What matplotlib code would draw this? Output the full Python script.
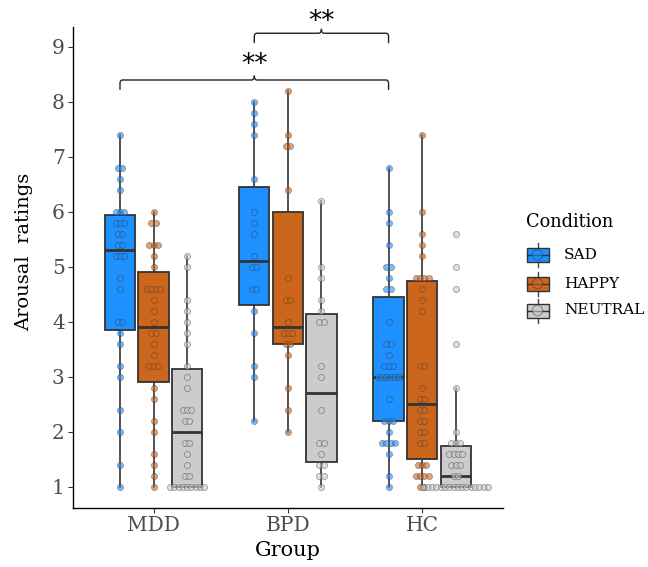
import numpy as np
import matplotlib
matplotlib.use("Agg")
import matplotlib.pyplot as plt
from matplotlib.path import Path
from matplotlib.patches import PathPatch, Rectangle, Circle
from collections import Counter

plt.rcParams['font.family'] = ['DejaVu Serif']

groups = ["MDD", "BPD", "HC"]
conditions = ["SAD", "HAPPY", "NEUTRAL"]
cond_colors = ["#1E90FF", "#CD661D", "#CCCCCC"]

mdd_sad = [1.0, 1.4, 2.0, 2.4, 3.0, 3.2, 3.6, 3.8, 4.0, 4.0, 4.6, 4.8, 5.2, 5.2, 5.2,
           5.4, 5.4, 5.6, 5.6, 5.8, 5.8, 5.8, 6.0, 6.0, 6.0, 6.4, 6.6, 6.8, 6.8, 7.4]
mdd_happy = [1.0, 1.2, 1.4, 1.6, 2.0, 2.2, 2.6, 2.8, 3.2, 3.2, 3.2, 3.4, 3.6, 3.8, 3.8,
             4.0, 4.2, 4.4, 4.6, 4.6, 4.6, 4.6, 5.0, 5.2, 5.4, 5.4, 5.4, 5.8, 5.8, 6.0]
mdd_neutral = [1.0] * 9 + [1.2, 1.2, 1.4, 1.6, 1.8, 1.8, 2.2, 2.2, 2.4, 2.4, 2.4, 2.8,
                           3.0, 3.2, 3.6, 3.8, 4.0, 4.2, 4.4, 5.0, 5.2]
bpd_sad = [2.2, 3.0, 3.2, 3.8, 4.2, 4.6, 4.6, 5.0, 5.0, 5.2, 5.6, 5.8, 6.0, 6.6, 7.4,
           7.6, 7.8, 8.0]
bpd_happy = [2.0, 2.4, 2.8, 3.4, 3.6, 3.6, 3.8, 3.8, 3.8, 4.0, 4.4, 4.4, 4.8, 6.4, 7.2,
             7.2, 7.4, 8.2]
bpd_neutral = [1.0, 1.2, 1.2, 1.4, 1.4, 1.6, 1.8, 1.8, 2.4, 3.0, 3.2, 4.0, 4.0, 4.2,
               4.4, 4.8, 5.0, 6.2]
hc_sad = [1.0, 1.2, 1.6, 1.8, 1.8, 1.8, 1.8, 2.0, 2.2, 2.2, 2.2, 2.6] + [3.0] * 6 + \
         [3.2, 3.2, 3.2, 3.4, 3.6, 3.6, 4.0, 4.6, 4.6, 4.8, 5.0, 5.0, 5.4, 5.8, 6.0, 6.8]
hc_happy = [1.0, 1.0, 1.2, 1.2, 1.2, 1.2, 1.4, 1.4, 1.4, 1.8, 1.8, 2.0, 2.0, 2.2, 2.2,
            2.4, 2.4, 2.6, 2.6, 2.8, 3.2, 3.2, 4.2, 4.4, 4.6, 4.8, 4.8, 4.8, 4.8, 5.2,
            5.4, 5.6, 6.0, 7.4]
hc_neutral = [1.0] * 16 + [1.2, 1.2, 1.4, 1.4, 1.4, 1.6, 1.6, 1.6, 1.6, 1.8, 1.8, 1.8,
                           2.0, 2.8, 3.6, 4.6, 5.0, 5.6]

data = {
    ("MDD", "SAD"): mdd_sad, ("MDD", "HAPPY"): mdd_happy, ("MDD", "NEUTRAL"): mdd_neutral,
    ("BPD", "SAD"): bpd_sad, ("BPD", "HAPPY"): bpd_happy, ("BPD", "NEUTRAL"): bpd_neutral,
    ("HC", "SAD"): hc_sad, ("HC", "HAPPY"): hc_happy, ("HC", "NEUTRAL"): hc_neutral,
}

W, H = 648, 567
fig = plt.figure(figsize=(W / 100, H / 100), dpi=100)
ax = fig.add_axes([73 / W, (H - 508) / H, 429.7 / W, 481.3 / H])

dodge = 0.25
box_w = 0.225
dot_step = 0.032
edge_dark = "#333333"

for gi, g in enumerate(groups):
    for ci, c in enumerate(conditions):
        vals = np.array(data[(g, c)])
        pos = gi + 1 + (ci - 1) * dodge
        bp = ax.boxplot([vals], positions=[pos], widths=box_w, patch_artist=True,
                        showfliers=False, showcaps=False, whis=1.5, manage_ticks=False,
                        boxprops=dict(facecolor=cond_colors[ci], edgecolor=edge_dark, linewidth=1.3),
                        whiskerprops=dict(color="#444444", linewidth=1.3),
                        medianprops=dict(color=edge_dark, linewidth=2.0))
        for w in bp['whiskers']:
            w.set_zorder(1)
        for b in bp['boxes']:
            b.set_zorder(2)
        for m in bp['medians']:
            m.set_zorder(2.5)
        cnt = Counter(np.round(vals, 2))
        xs, ys = [], []
        for v, n in sorted(cnt.items()):
            for i in range(n):
                xs.append(pos + (i - (n - 1) / 2) * dot_step)
                ys.append(v)
        rgb = matplotlib.colors.to_rgb(cond_colors[ci])
        ax.scatter(xs, ys, s=19, facecolor=(*rgb, 0.6), edgecolor=(0.2, 0.2, 0.2, 0.45),
                   linewidth=0.6, zorder=3)

ax.set_xlim(0.4, 3.6)
ax.set_ylim(0.618, 9.369)
ax.set_xticks([1, 2, 3])
ax.set_xticklabels(groups)
ax.set_yticks(range(1, 10))
for s in ["top", "right"]:
    ax.spines[s].set_visible(False)
for s in ["left", "bottom"]:
    ax.spines[s].set_linewidth(1.0)
    ax.spines[s].set_color("black")
ax.tick_params(axis="both", length=3.5, width=0.8, color="#333333", labelcolor="#4D4D4D",
               labelsize=14.5, pad=2.5)

ax.set_ylabel("Arousal  ratings", fontsize=14, color="black")
ax.set_xlabel("Group", fontsize=15, color="black")
ax.yaxis.set_label_coords(-0.093, 0.532)
ax.xaxis.set_label_coords(0.5, -0.0686)


def brace(x0, x1, xc, ylow, yh, tip, text, ytext):
    p1 = Path([(x0, ylow), (x0, yh - 0.06), (x0, yh), (x0 + 0.02, yh), (xc - 0.02, yh),
               (xc, yh), (xc, yh + tip)],
              [Path.MOVETO, Path.LINETO, Path.CURVE3, Path.CURVE3, Path.LINETO,
               Path.CURVE3, Path.CURVE3])
    p2 = Path([(xc, yh + tip), (xc, yh), (xc + 0.02, yh), (x1 - 0.02, yh), (x1, yh),
               (x1, yh - 0.06), (x1, ylow)],
              [Path.MOVETO, Path.CURVE3, Path.CURVE3, Path.LINETO, Path.CURVE3,
               Path.CURVE3, Path.LINETO])
    for p in (p1, p2):
        ax.add_patch(PathPatch(p, facecolor="none", edgecolor="#222222", linewidth=1.0,
                               clip_on=False))
    ax.text(xc, ytext, text, ha="center", va="baseline", fontsize=19, color="black",
            family="DejaVu Sans", clip_on=False)


brace(0.75, 2.75, 1.75, 8.22, 8.40, 0.08, "**", 8.55)
brace(1.75, 2.75, 2.25, 9.07, 9.25, 0.08, "**", 9.33)

# Legend drawn in figure pixel space
lax = fig.add_axes([0, 0, 1, 1], facecolor="none")
lax.set_xlim(0, W)
lax.set_ylim(H, 0)
lax.axis("off")
lax.text(526, 222, "Condition", fontsize=12.8, va="center", ha="left", color="black")
key_y = [255, 283.5, 310.5]
for ky, c, lab in zip(key_y, cond_colors, conditions):
    lax.plot([537.5, 537.5], [ky - 12, ky + 12], color="#444444", lw=1.0, zorder=1)
    lax.add_patch(Rectangle((527, ky - 7), 21.5, 14, facecolor=c, edgecolor=edge_dark,
                            lw=1.0, zorder=2))
    lax.plot([527, 548.5], [ky, ky], color=edge_dark, lw=1.0, zorder=3)
    rgb = matplotlib.colors.to_rgb(c)
    lax.add_patch(Circle((537.5, ky), 5.2, facecolor=(*rgb, 0.6),
                         edgecolor=(0.2, 0.2, 0.2, 0.45), lw=0.8, zorder=4))
    lax.text(564, ky, lab, fontsize=11.1, va="center", ha="left", color="black")

fig.savefig("out.png", dpi=100)
